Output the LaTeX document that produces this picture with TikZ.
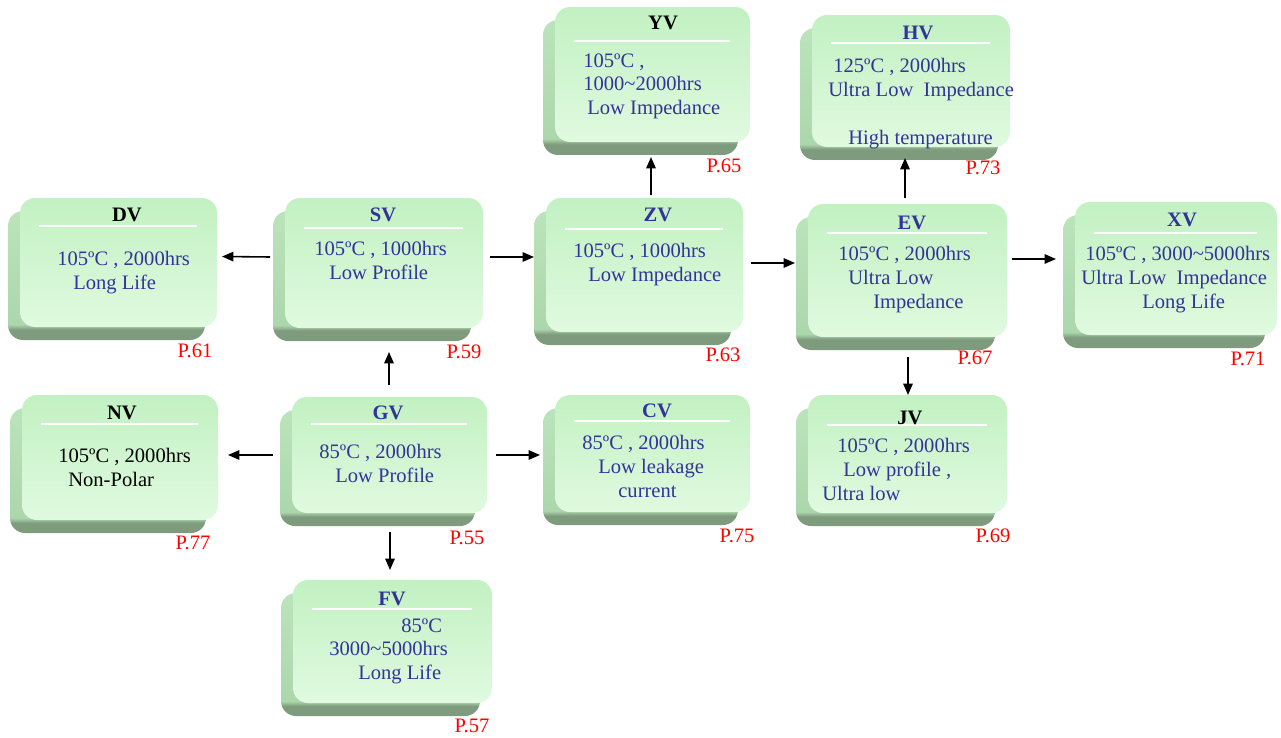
\documentclass[tikz,border=0pt]{standalone}
\usepackage{fontspec}
\setmainfont{Liberation Serif}
\usetikzlibrary{arrows.meta,shadows}

\definecolor{capblue}{HTML}{333399}
\definecolor{pagered}{HTML}{FF0000}
\definecolor{facetop}{HTML}{C2F1C2}
\definecolor{facebot}{HTML}{E0FAE0}
\definecolor{sidelight}{HTML}{BCE4BC}
\definecolor{sidemid}{HTML}{ACD6AC}
\definecolor{sidedark}{HTML}{7E9B7E}
\pgfdeclareverticalshading{capside}{100bp}{color(0bp)=(sidedark); color(29bp)=(sidedark);
  color(31bp)=(sidemid); color(75bp)=(sidelight); color(100bp)=(sidelight)}

\newlength\pxu
\setlength\pxu{0.02cm}
\newcommand\indpx[1]{\hspace*{#1\pxu}}

\begin{document}
\begin{tikzpicture}
  [x=0.02cm, y=-0.02cm,
   panel/.style 2 args={minimum width=#1*0.02cm, minimum height=#2*0.02cm,
     inner sep=0pt, outer sep=0pt, rounded corners=0.3cm,
     top color=facetop, bottom color=facebot,
     general shadow={shade, shading=capside, shadow xshift=-0.24cm, shadow yshift=-0.26cm}},
   title/.style={font=\fontsize{11.7}{13.6}\selectfont\bfseries, text=capblue,
     anchor=base, inner sep=0pt},
   body/.style={font=\fontsize{11.7}{13.6}\selectfont, text=capblue,
     align=left, anchor=north west, inner sep=0pt},
   page/.style={font=\fontsize{11.7}{13.6}\selectfont, text=pagered,
     anchor=base, inner sep=0pt},
   titlerule/.style={white, line width=1.2pt},
   arr/.style={-{Triangle[length=6.5pt,width=5.4pt]}, line width=0.9pt}]
  \useasboundingbox (0,0) rectangle (1281,737);

  % the series boxes
  \node[panel={197}{129}] (dv) at (118.5,262.5) {};
  \node[panel={198}{130}] (sv) at (384,263) {};
  \node[panel={197}{134}] (zv) at (644.5,265) {};
  \node[panel={199}{133}] (ev) at (907.5,270.5) {};
  \node[panel={202}{133}] (xv) at (1176,268.5) {};
  \node[panel={195}{135}] (yv) at (652.5,74.5) {};
  \node[panel={198}{132}] (hv) at (911,81) {};
  \node[panel={196}{125}] (nv) at (120,457.5) {};
  \node[panel={195}{116}] (gv) at (389.5,455) {};
  \node[panel={195}{117}] (cv) at (652.5,453.5) {};
  \node[panel={199}{118}] (jv) at (907.5,454) {};
  \node[panel={199}{123}] (fv) at (392.5,641.5) {};

  \foreach \b/\d in {dv/28, sv/30, zv/31, ev/29, xv/31, yv/34, hv/28, nv/29,
                     gv/27, cv/26, jv/30, fv/29}
    \draw[titlerule] ([shift={(19,\d)}]\b.north west) -- ([shift={(-20,\d)}]\b.north east);

  % titles
  \node[title, text=black] (dvt) at (127,221) {DV};
  \node[title] (svt) at (383,221) {SV};
  \node[title] (zvt) at (658,221) {ZV};
  \node[title] (evt) at (912,229) {EV};
  \node[title] (xvt) at (1182,226) {XV};
  \node[title, text=black] (yvt) at (663,30) {YV};
  \node[title] (hvt) at (918,39) {HV};
  \node[title, text=black] (nvt) at (122,419) {NV};
  \node[title] (gvt) at (388,419) {GV};
  \node[title] (cvt) at (657,417) {CV};
  \node[title, text=black] (jvt) at (910,424) {JV};
  \node[title] (fvt) at (392,605) {FV};

  % ratings
  \node[body] (dvb) at (57,251) {105ºC , 2000hrs\\\indpx{16}Long Life};
  \node[body] (svb) at (314,241) {105ºC , 1000hrs\\\indpx{15}Low Profile};
  \node[body] (zvb) at (573,243) {105ºC , 1000hrs\\\indpx{15}Low Impedance};
  \node[body] (evb) at (838,246) {105ºC , 2000hrs\\\indpx{10}Ultra Low\\\indpx{35}Impedance};
  \node[body] (xvb) at (1081,246)
    {\indpx{4}105ºC , 3000\textasciitilde5000hrs\\Ultra Low\ \ Impedance\\\indpx{61}Long Life};
  \node[body] (yvb) at (583,53) {105ºC ,\\1000\textasciitilde2000hrs\\\indpx{4}Low Impedance};
  \node[body] (hvb) at (828,58)
    {\indpx{5}125ºC , 2000hrs\\Ultra Low\ \ Impedance\\\mbox{}\\\indpx{20}High temperature};
  \node[body, text=black] (nvb) at (58,448) {105ºC , 2000hrs\\\indpx{10}Non-Polar};
  \node[body] (gvb) at (319,444) {85ºC , 2000hrs\\\indpx{16}Low Profile};
  \node[body] (cvb) at (582,435) {85ºC , 2000hrs\\\indpx{16}Low leakage\\\indpx{36}current};
  \node[body] (jvb) at (822,438) {\indpx{15}105ºC , 2000hrs\\\indpx{21}Low profile ,\\Ultra low};
  \node[body] (fvb) at (329,618) {\indpx{72}85ºC\\3000\textasciitilde5000hrs\\\indpx{29}Long Life};

  % page numbers
  \node[page] (dvp) at (195,357) {P.61};
  \node[page] (svp) at (464,358) {P.59};
  \node[page] (zvp) at (723,361) {P.63};
  \node[page] (evp) at (975,364) {P.67};
  \node[page] (xvp) at (1248,365) {P.71};
  \node[page] (yvp) at (724,172) {P.65};
  \node[page] (hvp) at (983,174) {P.73};
  \node[page] (nvp) at (193,549) {P.77};
  \node[page] (gvp) at (467,544) {P.55};
  \node[page] (cvp) at (737,542) {P.75};
  \node[page] (jvp) at (993,542) {P.69};
  \node[page] (fvp) at (472,732) {P.57};

  % arrows
  \draw[arr] ([shift={(-15,-6)}]sv.west) -- ([shift={(5,-6)}]dv.east);
  \draw[arr] ([shift={(7,-6)}]sv.east) -- ([shift={(-12,-8)}]zv.west);
  \draw[arr] ([shift={(6.5,-3)}]zv.north) -- ([shift={(-1.5,15)}]yv.south);
  \draw[arr] ([shift={(8,-2)}]zv.east) -- ([shift={(-13,-7.5)}]ev.west);
  \draw[arr] ([shift={(-2.5,-6)}]ev.north) -- ([shift={(-6,11)}]hv.south);
  \draw[arr] ([shift={(5,-11.5)}]ev.east) -- ([shift={(-19,-9.5)}]xv.west);
  \draw[arr] ([shift={(0.5,20)}]ev.south) -- ([shift={(0.5,0)}]jv.north);
  \draw[arr] ([shift={(-0.5,-12)}]gv.north) -- ([shift={(5,24)}]sv.south);
  \draw[arr] ([shift={(-19,0)}]gv.west) -- ([shift={(10,-2.5)}]nv.east);
  \draw[arr] ([shift={(9,0)}]gv.east) -- ([shift={(-15,1.5)}]cv.west);
  \draw[arr] ([shift={(0.5,19)}]gv.south) -- ([shift={(-2.5,-10)}]fv.north);
\end{tikzpicture}
\end{document}
